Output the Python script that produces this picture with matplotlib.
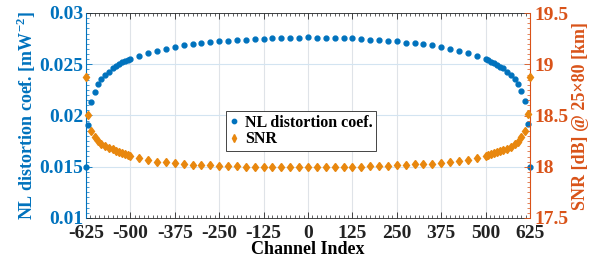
import matplotlib
matplotlib.use("Agg")
import matplotlib.pyplot as plt
from matplotlib.ticker import MultipleLocator

plt.rcParams['font.family'] = ['Liberation Serif', 'DejaVu Serif']
plt.rcParams['font.weight'] = 'bold'
plt.rcParams['mathtext.fontset'] = 'custom'
plt.rcParams['mathtext.rm'] = 'Liberation Serif:bold'
plt.rcParams['mathtext.bf'] = 'Liberation Serif:bold'

# Channel indices (edge channels denser, middle every 25)
channels = [-625, -620, -611, -601, -591, -582, -571, -561, -550, -540, -532, -524, -516, -508, -500,
            -475, -450, -425, -400, -375, -350, -325, -300, -275, -250, -225, -200, -175, -150, -125,
            -100, -75, -50, -25, 0, 25, 50, 75, 100, 125, 150, 175, 200, 225, 250, 275, 300, 325,
            350, 375, 400, 425, 450, 475,
            500, 508, 516, 524, 532, 540, 550, 561, 571, 582, 591, 601, 611, 620, 625]

nl_coef = [0.0150, 0.01907, 0.02135, 0.02232, 0.02304, 0.02353, 0.02395, 0.02427, 0.02460, 0.02483,
           0.02502, 0.02522, 0.02535, 0.02545, 0.02554,
           0.02583, 0.02607, 0.02632, 0.02646, 0.02665, 0.02685, 0.02695, 0.02704, 0.02714, 0.02727,
           0.02727, 0.02734, 0.02740, 0.02746, 0.02749, 0.02753, 0.02755, 0.02756, 0.02760, 0.02763,
           0.02756, 0.02753, 0.02753, 0.02753, 0.02753, 0.02743, 0.02740, 0.02734, 0.02727, 0.02727,
           0.02710, 0.02704, 0.02698, 0.02688, 0.02668, 0.02646, 0.02632, 0.02607, 0.02580,
           0.02554, 0.02541, 0.02525, 0.02509, 0.02493, 0.02476, 0.02460, 0.02427, 0.02395, 0.02353,
           0.02307, 0.02239, 0.02141, 0.01917, 0.0150]

snr = [18.876, 18.505, 18.349, 18.293, 18.251, 18.222, 18.202, 18.186, 18.170, 18.154,
       18.141, 18.131, 18.121, 18.112, 18.102,
       18.082, 18.066, 18.049, 18.043, 18.034, 18.027, 18.020, 18.017, 18.014, 18.007,
       18.007, 18.004, 18.000, 17.998, 17.997, 17.996, 17.995, 17.994, 17.994, 17.994,
       17.994, 17.995, 17.996, 17.997, 17.998, 18.000, 18.004, 18.007, 18.010, 18.014,
       18.017, 18.024, 18.027, 18.030, 18.037, 18.046, 18.053, 18.066, 18.082,
       18.105, 18.115, 18.125, 18.134, 18.144, 18.154, 18.163, 18.176, 18.196, 18.219,
       18.245, 18.290, 18.350, 18.515, 18.880]

xticks = [-625, -500, -375, -250, -125, 0, 125, 250, 375, 500, 625]
left_ticks = [0.01, 0.015, 0.02, 0.025, 0.03]
right_ticks = [17.5, 18, 18.5, 19, 19.5]

blue = '#0072BD'
red = '#D95319'
orange = '#E8870E'

fig = plt.figure(figsize=(6.01, 2.61), dpi=100)
ax = fig.add_axes([86/601, 43/261, 444/601, 205/261])
ax2 = ax.twinx()

ax.set_xlim(-625, 625)
ax.set_ylim(0.01, 0.03)
ax2.set_ylim(17.5, 19.5)

# grid
for x in xticks:
    ax.axvline(x, color='#dfe3e8', lw=0.8, zorder=0)
for y in left_ticks:
    ax.axhline(y, color='#d3e4f1', lw=0.8, zorder=0)

l1, = ax.plot(channels, nl_coef, linestyle='none', marker='o', ms=3.5, color=blue,
              label='NL distortion coef.', zorder=3, clip_on=False)
l2, = ax2.plot(channels, snr, linestyle='none', marker='d', ms=4.5, color=orange,
               label='SNR', zorder=3, clip_on=False)

ax.set_xticks(xticks)
ax.set_xticklabels([str(v) for v in xticks])
ax.xaxis.set_minor_locator(MultipleLocator(12.5))
ax.set_yticks(left_ticks)
ax.set_yticklabels(['0.01', '0.015', '0.02', '0.025', '0.03'])
ax.yaxis.set_minor_locator(MultipleLocator(0.0005))
ax2.set_yticks(right_ticks)
ax2.set_yticklabels(['17.5', '18', '18.5', '19', '19.5'])
ax2.yaxis.set_minor_locator(MultipleLocator(0.05))

ax.tick_params(axis='x', which='both', direction='in', top=True, colors='#262626',
               labelsize=14, pad=5, labelcolor='#222222')
ax.tick_params(axis='x', which='major', length=4, width=0.6)
ax.tick_params(axis='x', which='minor', length=2, width=0.5)
ax.tick_params(axis='y', which='both', direction='in', colors=blue, labelsize=14, pad=2)
ax.tick_params(axis='y', which='major', length=4, width=0.6)
ax.tick_params(axis='y', which='minor', length=2, width=0.5)
ax2.tick_params(axis='y', which='both', direction='in', colors=red, labelsize=14, pad=3)
ax2.tick_params(axis='y', which='major', length=4, width=0.6)
ax2.tick_params(axis='y', which='minor', length=2, width=0.5)

for lab in ax.get_xticklabels() + ax.get_yticklabels() + ax2.get_yticklabels():
    lab.set_fontweight('bold')

for s in ['top', 'bottom']:
    ax.spines[s].set_color('#262626')
    ax.spines[s].set_linewidth(0.6)
    ax2.spines[s].set_visible(False)
ax2.spines['left'].set_color(blue)
ax2.spines['right'].set_color(red)
ax.spines['left'].set_color(blue)
ax.spines['right'].set_visible(False)
ax2.spines['right'].set_linewidth(0.8)
ax2.spines['left'].set_linewidth(0.6)

ax.set_xlabel('Channel Index', fontsize=13, fontweight='bold', labelpad=-1)
ax.set_ylabel('NL distortion coef. [mW$^{-2}$]', fontsize=13, fontweight='bold', color=blue, labelpad=1)
ax2.set_ylabel('SNR [dB] @ 25\u00d780 [km]', fontsize=13, fontweight='bold', color=red, labelpad=3)

leg = ax2.legend(handles=[l1, l2], loc='center', bbox_to_anchor=(0.484, 0.424),
                 prop={'family': 'Liberation Serif', 'weight': 'bold', 'size': 11.5},
                 frameon=True, fancybox=False, edgecolor='#262626', framealpha=1,
                 handlelength=0.6, handletextpad=0.4, borderpad=0.2, labelspacing=0.05,
                 markerscale=0.9)
leg.get_frame().set_linewidth(0.6)

fig.savefig('out.png', dpi=100)
